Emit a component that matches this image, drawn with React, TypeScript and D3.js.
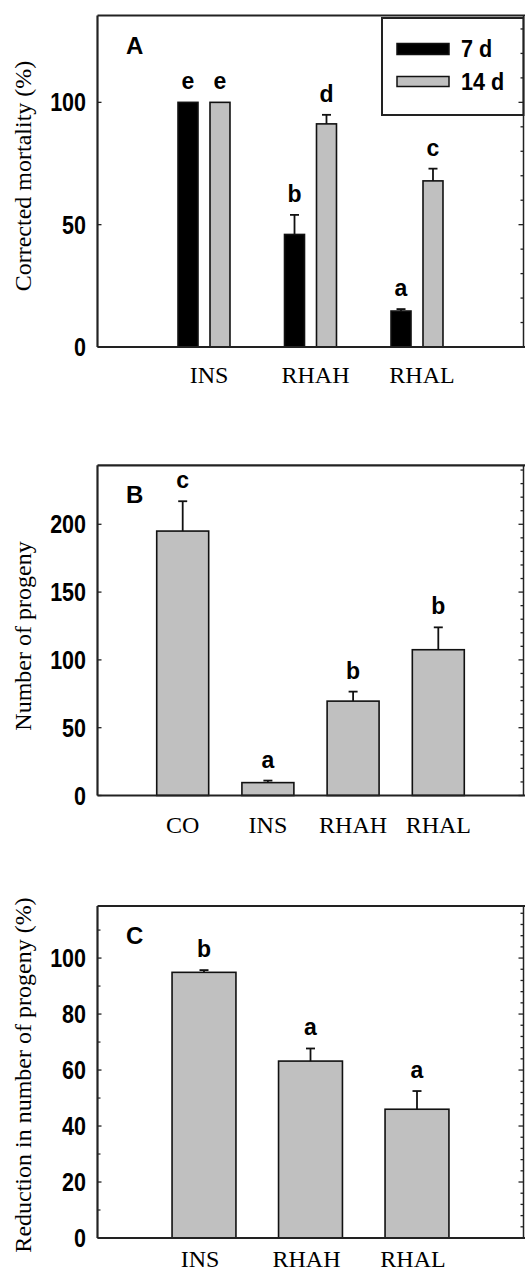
import React from 'react'
import * as d3 from 'd3'

// panel A: corrected mortality
const mortCategories = ['INS', 'RHAH', 'RHAL']
const mortSeries = ['7 d', '14 d']
const mort7d = [100, 46, 14.7]
const mort7dErr = [0, 8, 0.8]
const mort14d = [100, 91.2, 67.9]
const mort14dErr = [0, 3.7, 5]
const mort7dLetters = ['e', 'b', 'a']
const mort14dLetters = ['e', 'd', 'c']
const mortTicks = [0, 50, 100]

// panel B: number of progeny
const progCategories = ['CO', 'INS', 'RHAH', 'RHAL']
const progValues = [195, 9.5, 69.6, 107.5]
const progErr = [22, 1.5, 7, 16.5]
const progLetters = ['c', 'a', 'b', 'b']
const progTicks = [0, 50, 100, 150, 200]

// panel C: reduction in progeny
const redCategories = ['INS', 'RHAH', 'RHAL']
const redValues = [94.9, 63.2, 46]
const redErr = [0.8, 4.5, 6.5]
const redLetters = ['b', 'a', 'a']
const redTicks = [0, 20, 40, 60, 80, 100]

const W = 525
const H = 1272
const left = 97.5
const right = 523.5
const sans = 'Liberation Sans, Arial, Helvetica, sans-serif'
const serif = 'Liberation Serif, Times New Roman, serif'
const GRAY = '#c0c0c0'
const LINE = '#222'

const Panel = ({ top, bottom, yMax, categories, series, letter, title, titleY, labelDx,
  labelDy, ticks, leftMinor, rightStep, rightMajor, barFrac, legend }) => {
  const x = d3.scalePoint().domain(categories).range([left, right]).padding(1)
  const y = d3.scaleLinear().domain([0, yMax]).range([bottom, top])
  const step = x.step()
  const sub = d3
    .scaleBand()
    .domain(series.map((s) => s.name))
    .range([-step * barFrac / 2, step * barFrac / 2])
    .paddingInner(series.length > 1 ? 0.375 : 0)

  const rightTicks = d3.range(0, yMax + 0.001, rightStep)
  const minorLeft = leftMinor ? d3.range(leftMinor, yMax, leftMinor * 2) : []

  return (
    <g>
      {/* bars */}
      {series.map((s) =>
        categories.map((c, i) => {
          const x0 = x(c) + sub(s.name)
          const bw = sub.bandwidth()
          const v = s.values[i]
          const e = s.err[i]
          const cx = x0 + bw / 2
          return (
            <g key={s.name + c}>
              <rect x={x0} y={y(v)} width={bw} height={y(0) - y(v)} fill={s.fill}
                stroke="#111" strokeWidth={1.6} />
              {e > 0 && (
                <g stroke="#111" strokeWidth={1.8}>
                  <line x1={cx} x2={cx} y1={y(v)} y2={y(v + e)} />
                  <line x1={cx - 4.5} x2={cx + 4.5} y1={y(v + e)} y2={y(v + e)} />
                </g>
              )}
              <text x={cx} y={y(v + e) - 13} textAnchor="middle" fontFamily={sans}
                fontWeight="bold" fontSize={23}>
                {s.letters[i]}
              </text>
            </g>
          )
        })
      )}

      {/* frame */}
      <g stroke={LINE} strokeWidth={2.2} fill="none">
        <line x1={left} x2={W} y1={top} y2={top} />
        <line x1={left} x2={W} y1={bottom} y2={bottom} />
        <line x1={left} x2={left} y1={top} y2={bottom} />
      </g>

      {legend && (
        <g>
          <rect x={382} y={top + 2.5} width={right - 382} height={97} fill="#fff"
            stroke={LINE} strokeWidth={2} />
          {series.map((s, i) => (
            <g key={s.name}>
              <rect x={397} y={top + 28 + i * 33} width={52} height={i === 0 ? 11 : 10}
                fill={s.fill} stroke="#111" strokeWidth={1.5} />
              <text transform={`translate(461,${top + 41 + i * 33}) scale(0.9,1)`}
                fontFamily={sans} fontWeight="bold" fontSize={24}>
                {s.name}
              </text>
            </g>
          ))}
        </g>
      )}

      {/* right axis */}
      <line x1={right} x2={right} y1={top} y2={bottom} stroke={LINE} strokeWidth={1.5} />
      {rightTicks.map((t) => (
        <line key={'r' + t} x1={right} x2={right - (t % rightMajor === 0 ? 5 : 3)}
          y1={y(t)} y2={y(t)} stroke={LINE} strokeWidth={1.3} />
      ))}

      {/* left axis */}
      {ticks.map((t) => (
        <g key={'l' + t}>
          <line x1={left} x2={left + 4} y1={y(t)} y2={y(t)} stroke={LINE} strokeWidth={1.3} />
          <text transform={`translate(86,${y(t)}) scale(0.86,1)`} dy="0.36em"
            textAnchor="end" fontFamily={sans} fontWeight="bold" fontSize={25}>
            {t}
          </text>
        </g>
      ))}
      {minorLeft.map((t) => (
        <line key={'m' + t} x1={left} x2={left + 3} y1={y(t)} y2={y(t)} stroke={LINE}
          strokeWidth={1.2} />
      ))}

      <text x={126} y={top + 38} fontFamily={sans} fontWeight="bold" fontSize={24}>
        {letter}
      </text>

      {categories.map((c) => (
        <text key={'c' + c} x={x(c) + labelDx} y={bottom + labelDy}
          textAnchor="middle" fontFamily={serif} fontSize={24}>
          {c}
        </text>
      ))}

      <text transform={`translate(31,${titleY}) rotate(-90)`} textAnchor="middle"
        fontFamily={serif} fontSize={24}>
        {title}
      </text>
    </g>
  )
}

export default function App() {
  return (
    <svg width={W} height={H} viewBox={`0 0 ${W} ${H}`}
      style={{ position: 'absolute', left: 0, top: 0, background: '#fff' }}>
      <Panel
        top={15.5}
        bottom={347}
        yMax={135.5}
        categories={mortCategories}
        series={[
          { name: mortSeries[0], values: mort7d, err: mort7dErr, letters: mort7dLetters, fill: '#000' },
          { name: mortSeries[1], values: mort14d, err: mort14dErr, letters: mort14dLetters, fill: GRAY },
        ]}
        letter="A"
        title="Corrected mortality (%)"
        titleY={176}
        labelDx={5}
        labelDy={36}
        ticks={mortTicks}
        leftMinor={0}
        rightStep={10}
        rightMajor={50}
        barFrac={0.488}
        legend
      />
      <Panel
        top={465.3}
        bottom={795.5}
        yMax={243.5}
        categories={progCategories}
        series={[{ name: 'progeny', values: progValues, err: progErr, letters: progLetters, fill: GRAY }]}
        letter="B"
        title="Number of progeny"
        titleY={636}
        labelDx={0}
        labelDy={37}
        ticks={progTicks}
        leftMinor={0}
        rightStep={10}
        rightMajor={50}
        barFrac={0.61}
      />
      <Panel
        top={906}
        bottom={1238}
        yMax={118.6}
        categories={redCategories}
        series={[{ name: 'reduction', values: redValues, err: redErr, letters: redLetters, fill: GRAY }]}
        letter="C"
        title="Reduction in number of progeny (%)"
        titleY={1075}
        labelDx={-4}
        labelDy={29}
        ticks={redTicks}
        leftMinor={10}
        rightStep={4}
        rightMajor={20}
        barFrac={0.6}
      />
    </svg>
  )
}
